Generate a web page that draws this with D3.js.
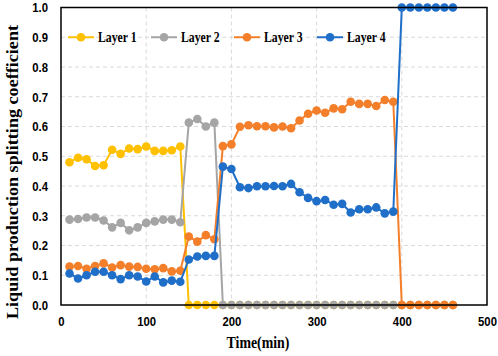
<!DOCTYPE html>
<html>
<head>
<meta charset="utf-8">
<script src="https://cdn.jsdelivr.net/npm/d3@7"></script>
<style>
  body { margin: 0; background: #fff; }
  svg { display: block; font-family: "Liberation Serif", "Times New Roman", serif; font-weight: bold; }
</style>
</head>
<body>
<svg id="chart" width="498" height="356"></svg>
<script>
// time (min)
const time = [10,20,30,40,50,60,70,80,90,100,110,120,130,140,150,160,170,180,190,200,
  210,220,230,240,250,260,270,280,290,300,310,320,330,340,350,360,370,380,390,400,
  410,420,430,440,450,460];

const layer1 = [0.48,0.495,0.49,0.467,0.47,0.522,0.508,0.526,0.524,0.533,0.518,0.518,0.52,0.533,
  0,0,0,0,0,0,0,0,0,0,0,0,0,0,0,0,0,0,0,0,0,0,0,0,0,0,0,0,0,0,0,0];
const layer2 = [0.287,0.289,0.294,0.294,0.284,0.261,0.276,0.251,0.261,0.276,0.281,0.287,0.287,0.278,
  0.613,0.625,0.6,0.613,
  0,0,0,0,0,0,0,0,0,0,0,0,0,0,0,0,0,0,0,0,0,0,0,0,0,0,0,0];
const layer3 = [0.129,0.131,0.122,0.131,0.14,0.126,0.134,0.129,0.128,0.122,0.12,0.124,0.113,0.115,
  0.23,0.213,0.235,0.221,
  0.534,0.54,0.599,0.604,0.601,0.601,0.597,0.6,0.594,0.62,0.643,0.654,0.646,0.661,0.658,0.683,0.676,0.676,0.669,0.689,0.683,
  0,0,0,0,0,0,0];
const layer4 = [0.106,0.089,0.1,0.112,0.112,0.1,0.087,0.1,0.096,0.079,0.096,0.076,0.082,0.078,
  0.153,0.163,0.165,0.165,
  0.465,0.457,0.396,0.393,0.399,0.399,0.4,0.399,0.407,0.379,0.36,0.349,0.353,0.337,0.34,0.311,0.322,0.322,0.328,0.308,0.314,
  1,1,1,1,1,1,1];

const seriesNames = ['Layer 1', 'Layer 2', 'Layer 3', 'Layer 4'];
const seriesColors = ['#FFC000', '#A5A5A5', '#F47F2A', '#1F6FC9'];
const xTicks = [0, 100, 200, 300, 400, 500];
const yTicks = [0, 0.1, 0.2, 0.3, 0.4, 0.5, 0.6, 0.7, 0.8, 0.9, 1.0];

const margin = { left: 61, right: 11, top: 7.5, bottom: 51 };
const size = { width: 498, height: 356 };
const w = size.width - margin.left - margin.right;
const h = size.height - margin.top - margin.bottom;

// the source text is tall and narrow, squeeze glyphs horizontally
const squeeze = 0.84;
const narrow = sel => sel.each(function () {
  const len = this.getComputedTextLength();
  d3.select(this).attr('textLength', len * squeeze).attr('lengthAdjust', 'spacingAndGlyphs');
});

const svg = d3.select('#chart');
const g = svg.append('g').attr('transform', `translate(${margin.left},${margin.top})`);

const x = d3.scaleLinear().domain([0, 500]).range([0, w]);
const y = d3.scaleLinear().domain([0, 1]).range([h, 0]);

// grid
g.selectAll('.hgrid').data(yTicks.slice(1, -1)).enter().append('line')
  .attr('x1', 0).attr('x2', w)
  .attr('y1', d => y(d)).attr('y2', d => y(d))
  .attr('stroke', '#d9d9d9').attr('stroke-dasharray', '4,3');
g.selectAll('.vgrid').data(xTicks.slice(1, -1)).enter().append('line')
  .attr('y1', 0).attr('y2', h)
  .attr('x1', d => x(d)).attr('x2', d => x(d))
  .attr('stroke', '#d9d9d9').attr('stroke-dasharray', '4,3');

// axes
const xAxis = g.append('g').attr('transform', `translate(0,${h})`)
  .call(d3.axisBottom(x).tickValues(xTicks).tickSize(0).tickPadding(11));
const yAxis = g.append('g')
  .call(d3.axisLeft(y).tickValues(yTicks).tickSize(0).tickPadding(13).tickFormat(d3.format('.1f')));
[xAxis, yAxis].forEach(a => {
  a.select('.domain').remove();
  a.selectAll('text').attr('font-size', 13.5).attr('font-family', null).attr('fill', '#000')
    .attr('transform', `scale(${squeeze},1)`);
});
yAxis.selectAll('text').attr('x', -13 / squeeze);

// series
const data = [layer1, layer2, layer3, layer4];
const line = d3.line().x((d, i) => x(time[i])).y(d => y(d));

data.forEach((vals, k) => {
  const s = g.append('g');
  s.append('path').datum(vals)
    .attr('d', line)
    .attr('fill', 'none')
    .attr('stroke', seriesColors[k])
    .attr('stroke-width', 2);
  s.selectAll('circle').data(vals).enter().append('circle')
    .attr('cx', (d, i) => x(time[i]))
    .attr('cy', d => y(d))
    .attr('r', 4.3)
    .attr('fill', seriesColors[k]);
});

// frame
g.append('rect').attr('width', w).attr('height', h)
  .attr('fill', 'none').attr('stroke', '#000').attr('stroke-width', 1.5);

// legend
const legend = g.append('g').attr('transform', `translate(7,${y(0.9)})`);
seriesNames.forEach((name, k) => {
  const item = legend.append('g').attr('transform', `translate(${k * 83},0)`);
  item.append('line').attr('x1', 0).attr('x2', 26)
    .attr('stroke', seriesColors[k]).attr('stroke-width', 2);
  item.append('circle').attr('cx', 13).attr('r', 4.3).attr('fill', seriesColors[k]);
  item.append('text').attr('x', 30).attr('dy', '0.35em')
    .attr('font-size', 14).text(name).call(narrow);
});

// axis titles
svg.append('text')
  .attr('x', 258).attr('y', 348)
  .attr('text-anchor', 'middle').attr('font-size', 16.5)
  .text('Time(min)').call(narrow);
svg.append('text')
  .attr('transform', `translate(18,172) rotate(-90)`)
  .attr('text-anchor', 'middle').attr('font-size', 17.5)
  .attr('textLength', 294).attr('lengthAdjust', 'spacingAndGlyphs')
  .text('Liquid production splitting coefficient');
</script>
</body>
</html>
